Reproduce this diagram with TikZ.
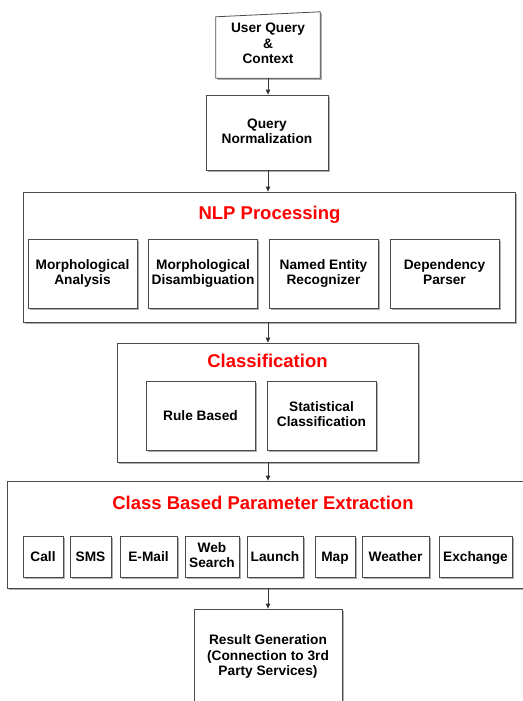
\documentclass[tikz,border=0pt]{standalone}
\usepackage{fontspec}
\setmainfont{Liberation Sans}
\usetikzlibrary{shadows,arrows.meta,backgrounds}
\definecolor{edge}{HTML}{4A4A4A}
\definecolor{titlered}{HTML}{FF0000}
\begin{document}
\begin{tikzpicture}[x=1pt,y=-1pt,
  shade/.style={drop shadow={shadow xshift=1.6pt,shadow yshift=-1.6pt,fill=black!45,opacity=0.7}},
  label/.style={align=center,inner sep=0pt,
    font=\fontsize{13.7}{15.5}\selectfont\bfseries,
    execute at begin node={\rule{0pt}{0.93em}},
    execute at end node={\rule[-0.22em]{0pt}{0.22em}}},
  box/.style={label,draw=edge,line width=0.8pt,fill=white,shade},
  group/.style={draw=edge,line width=0.8pt,fill=white,inner sep=0pt,shade},
  grouptitle/.style={text=titlered,inner sep=0pt,font=\fontsize{18.5}{20}\selectfont\bfseries},
  arr/.style={draw=black!80,line width=0.8pt,-{Triangle[length=5pt,width=4.5pt]}}]
\useasboundingbox (0,0) rectangle (522,701);

% input
\node[label,minimum width=104pt,minimum height=66pt] (uq) at (268,45) {User Query\\\&\\Context};
\begin{pgfonlayer}{background}
\fill[white] (0,0) rectangle (522,701);
\draw[draw=edge,line width=0.8pt,fill=white,shade]
  (uq.south west) -- (uq.south east) -- (uq.north east) -- ([yshift=-5pt]uq.north west) -- cycle;
\end{pgfonlayer}

\node[box,minimum width=122pt,minimum height=75pt] (qn) at (267,132.5) {Query\\Normalization};

% NLP processing
\node[group,minimum width=492pt,minimum height=130pt] (nlp) at (269,257) {};
\node[grouptitle] (nlpt) at (269.5,215) {NLP Processing};
\node[box,minimum width=109pt,minimum height=69pt] (ma) at (82.5,273.5) {Morphological\\Analysis};
\node[box,minimum width=109pt,minimum height=69pt] (md) at (203,273.5) {Morphological\\Disambiguation};
\node[box,minimum width=109pt,minimum height=69pt] (ner) at (323.5,273.5) {Named Entity\\Recognizer};
\node[box,minimum width=109pt,minimum height=69pt] (dp) at (444.5,273.5) {Dependency\\Parser};

% classification
\node[group,minimum width=301pt,minimum height=119pt] (cls) at (267.5,402.5) {};
\node[grouptitle] (clst) at (267.5,361) {Classification};
\node[box,minimum width=109pt,minimum height=69pt] (rb) at (200.5,415.5) {Rule Based};
\node[box,minimum width=109pt,minimum height=69pt] (sc) at (321.5,415.5) {Statistical\\Classification};

% parameter extraction
\node[group,minimum width=523pt,minimum height=107pt] (cbpe) at (268.5,534.5) {};
\node[grouptitle] (cbpet) at (263,503) {Class Based Parameter Extraction};
\node[box,minimum width=40pt,minimum height=41pt] (call) at (43,556.5) {Call};
\node[box,minimum width=41pt,minimum height=41pt] (sms) at (90.5,556.5) {SMS};
\node[box,minimum width=57pt,minimum height=41pt] (mail) at (148.5,556.5) {E-Mail};
\node[box,minimum width=54pt,minimum height=41pt] (web) at (212,556.5) {Web\\Search};
\node[box,minimum width=56pt,minimum height=41pt] (launch) at (275,556.5) {Launch};
\node[box,minimum width=40pt,minimum height=41pt] (map) at (335,556.5) {Map};
\node[box,minimum width=67pt,minimum height=41pt] (weather) at (395.5,556.5) {Weather};
\node[box,minimum width=73pt,minimum height=41pt] (exch) at (475.5,556.5) {Exchange};

% result
\node[box,minimum width=148pt,minimum height=96pt] (res) at (268,657) {Result Generation\\(Connection to 3rd\\Party Services)};

% connectors
\draw[arr] (uq.south) -- (uq.south |- qn.north);
\draw[arr] (qn.south -| uq.south) -- (uq.south |- nlp.north);
\draw[arr] (nlp.south -| uq.south) -- (uq.south |- cls.north);
\draw[arr] (cls.south -| uq.south) -- (uq.south |- cbpe.north);
\draw[arr] (cbpe.south -| uq.south) -- (uq.south |- res.north);
\end{tikzpicture}
\end{document}
